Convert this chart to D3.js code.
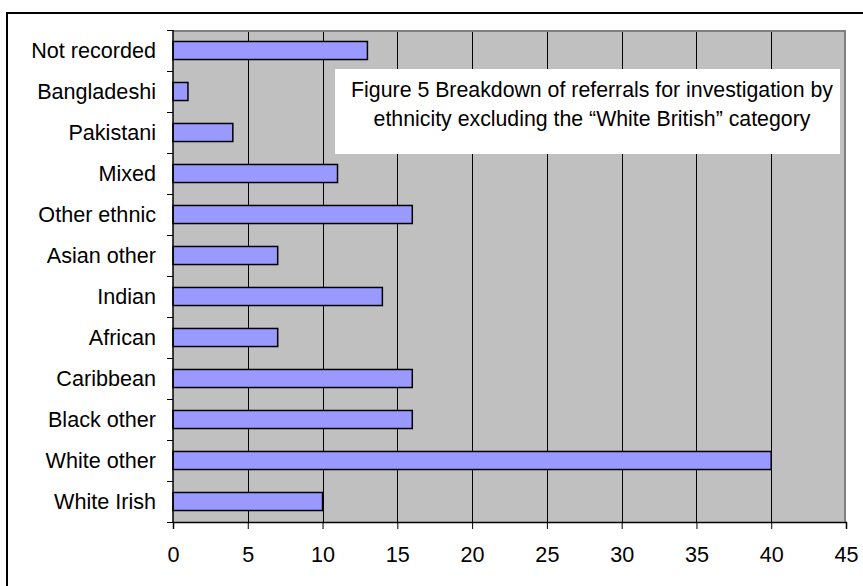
<!DOCTYPE html>
<html>
<head>
<meta charset="utf-8">
<script src="https://cdn.jsdelivr.net/npm/d3@7"></script>
<style>
  html, body { margin: 0; padding: 0; background: #fff; }
  svg { display: block; font-family: "Liberation Sans", Arial, sans-serif; }
</style>
</head>
<body>
<svg id="chart" width="863" height="586"></svg>
<script>
const categories = ["White Irish", "White other", "Black other", "Caribbean", "African", "Indian",
                    "Asian other", "Other ethnic", "Mixed", "Pakistani", "Bangladeshi", "Not recorded"];
const values = [10, 40, 16, 16, 7, 14, 7, 16, 11, 4, 1, 13];
const xTicks = [0, 5, 10, 15, 20, 25, 30, 35, 40, 45];
const titleLines = ["Figure 5 Breakdown of referrals for investigation by",
                    "ethnicity excluding the \u201cWhite British\u201d category"];

const svg = d3.select("#chart");
const plot = { left: 173, top: 30, right: 846, bottom: 522 };
const FS = 21.6;

// outer frame
svg.append("rect").attr("x", 7).attr("y", 13).attr("width", 900).attr("height", 620)
  .attr("fill", "#fff").attr("stroke", "#000").attr("stroke-width", 2);

const x = d3.scaleLinear().domain([0, 45]).range([plot.left, plot.right]);
const y = d3.scaleBand().domain(categories.slice().reverse()).range([plot.top, plot.bottom]).paddingInner(0.56).paddingOuter(0.28);
const yb = d3.scaleBand().domain(categories.slice().reverse()).range([plot.top, plot.bottom]);

// plot background
svg.append("rect").attr("x", plot.left).attr("y", plot.top)
  .attr("width", plot.right - plot.left).attr("height", plot.bottom - plot.top)
  .attr("fill", "#c0c0c0");

// grid lines
svg.append("g").selectAll("line").data(xTicks.slice(1, -1)).join("line")
  .attr("x1", d => Math.round(x(d)) + 0.5).attr("x2", d => Math.round(x(d)) + 0.5)
  .attr("y1", plot.top).attr("y2", plot.bottom)
  .attr("stroke", "#000").attr("stroke-width", 1);

// plot border top/right
svg.append("path")
  .attr("d", `M${plot.left},${plot.top + 1}H${plot.right - 1}V${plot.bottom}`)
  .attr("fill", "none").attr("stroke", "#808080").attr("stroke-width", 2);

// bars
svg.append("g").selectAll("rect").data(categories).join("rect")
  .attr("x", x(0))
  .attr("y", d => y(d))
  .attr("width", (d, i) => x(values[i]) - x(0))
  .attr("height", y.bandwidth())
  .attr("fill", "#9999ff").attr("stroke", "#000").attr("stroke-width", 1.5);

// x axis
const xAxis = d3.axisBottom(x).tickValues(xTicks).tickSize(7).tickPadding(18);
const gx = svg.append("g").attr("transform", `translate(0,${plot.bottom})`).call(xAxis);
gx.select(".domain").attr("stroke", "#000").attr("stroke-width", 1.5);
gx.selectAll(".tick line").attr("stroke", "#000");
gx.selectAll(".tick text").attr("font-size", FS).attr("fill", "#000")
  .attr("font-family", "Liberation Sans, Arial, sans-serif");

// y axis: ticks at band boundaries
const boundaries = categories.map(c => yb(c)).concat([plot.bottom]);
svg.append("line").attr("x1", plot.left).attr("x2", plot.left)
  .attr("y1", plot.top).attr("y2", plot.bottom)
  .attr("stroke", "#000").attr("stroke-width", 1.5);
svg.append("g").selectAll("line").data(boundaries).join("line")
  .attr("x1", plot.left - 6).attr("x2", plot.left)
  .attr("y1", d => Math.round(d) + 0.5).attr("y2", d => Math.round(d) + 0.5)
  .attr("stroke", "#000").attr("stroke-width", 1);
svg.append("g").selectAll("text").data(categories).join("text")
  .attr("x", 156)
  .attr("y", d => yb(d) + yb.bandwidth() / 2)
  .attr("dy", "0.35em")
  .attr("text-anchor", "end")
  .attr("font-size", FS)
  .attr("fill", "#000")
  .text(d => d);

// title box
svg.append("rect").attr("x", 335).attr("y", 69).attr("width", 505).attr("height", 85)
  .attr("fill", "#fff");
svg.append("g").selectAll("text").data(titleLines).join("text")
  .attr("x", 592)
  .attr("y", (d, i) => 97 + i * 29)
  .attr("text-anchor", "middle")
  .attr("font-size", 21.3)
  .attr("fill", "#000")
  .text(d => d);
</script>
</body>
</html>
